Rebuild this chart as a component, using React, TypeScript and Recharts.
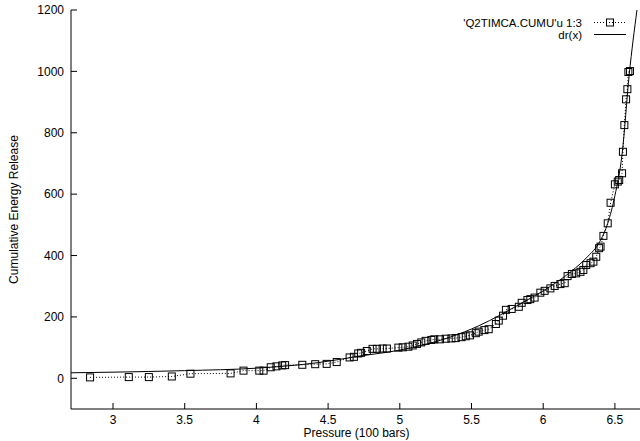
import React from 'react';
import { ComposedChart, Line, XAxis, YAxis } from 'recharts';

// measured points: pressure (100 bars) vs cumulative energy release
const PRESSURE = [
  2.84, 3.11, 3.25, 3.41, 3.54, 3.82, 3.91, 4.02, 4.05, 4.1, 4.14, 4.18, 4.2, 4.32, 4.41, 4.49, 4.56, 4.65, 4.68,
  4.71, 4.73, 4.77, 4.81, 4.84, 4.88, 4.91, 4.99, 5.02, 5.06, 5.09, 5.12, 5.15, 5.18, 5.22, 5.24, 5.28, 5.32, 5.36,
  5.39, 5.43, 5.46, 5.49, 5.53, 5.55, 5.59, 5.62, 5.67, 5.69, 5.72, 5.74, 5.78, 5.83, 5.85, 5.89, 5.91, 5.94, 5.98,
  6.01, 6.05, 6.08, 6.12, 6.15, 6.17, 6.2, 6.23, 6.26, 6.28, 6.3, 6.33, 6.35, 6.37, 6.39, 6.4, 6.42, 6.45, 6.47,
  6.5, 6.52, 6.53, 6.55, 6.556, 6.566, 6.578, 6.587, 6.594, 6.605,
];
const ENERGY = [
  3, 4, 4, 6, 15, 16, 25, 25, 25, 36, 39, 42, 43, 44, 46, 47, 53, 68, 70,
  81, 83, 89, 96, 96, 97, 97, 100, 101, 103, 107, 112, 117, 122, 125, 127, 127, 129, 130,
  131, 134, 137, 140, 147, 152, 157, 160, 177, 188, 204, 223, 226, 233, 246, 255, 258, 263, 279,
  285, 293, 301, 307, 310, 333, 340, 342, 347, 353, 369, 375, 380, 396, 424, 429, 464, 505, 572,
  632, 641, 646, 668, 738, 825, 909, 942, 998, 1001,
];

// fitted curve dr(x)
const DR_P = [2.707, 3.0, 3.5, 4.0, 4.43, 4.73, 5.0, 5.35, 5.55, 5.7, 5.8, 5.9, 6.0, 6.1, 6.2, 6.3, 6.4, 6.45, 6.5, 6.55, 6.6, 6.654];
const DR_E = [18, 20, 25, 33, 51, 73, 92, 134, 171, 206, 232, 258, 285, 315, 350, 392, 450, 505, 595, 730, 990, 1200];

const X_TICKS = [3, 3.5, 4, 4.5, 5, 5.5, 6, 6.5];
const Y_TICKS = [0, 200, 400, 600, 800, 1000, 1200];
const X_DOMAIN = [2.707, 6.689];
const Y_DOMAIN = [-100, 1200];

const FONT = '"Liberation Sans", Arial, Helvetica, sans-serif';

const measured = PRESSURE.map((p, i) => ({ x: p, y: ENERGY[i] }));
const fitted = DR_P.map((p, i) => ({ x: p, y: DR_E[i] }));

const Square = (props: any) => {
  const { cx, cy, index } = props;
  if (cx == null || cy == null) return <g key={`sq-${index}`} />;
  return <rect key={`sq-${index}`} x={cx - 3.5} y={cy - 3.5} width={7} height={7} fill="none" stroke="#000" strokeWidth={1} />;
};

const Key = () => (
  <svg width={640} height={50} style={{ position: 'absolute', left: 0, top: 0, pointerEvents: 'none' }}>
    <g fontFamily={FONT} fontSize={11.5} fill="#000">
      <text x={582} y={26.5} textAnchor="end">'Q2TIMCA.CUMU'u 1:3</text>
      <text x={582} y={38.5} textAnchor="end">dr(x)</text>
    </g>
    <line x1={594} y1={22.5} x2={626} y2={22.5} stroke="#000" strokeDasharray="1 2" />
    <rect x={606.5} y={19} width={7} height={7} fill="none" stroke="#000" />
    <line x1={594} y1={34.5} x2={626} y2={34.5} stroke="#000" />
  </svg>
);

export default function App() {
  const tickStyle = { fill: '#000', fontSize: 12, fontFamily: FONT };
  return (
    <div style={{ position: 'absolute', left: 0, top: 0, width: 640, height: 441, overflow: 'hidden', background: '#fff' }}>
      <ComposedChart width={642} height={441} margin={{ top: 10, right: 0, bottom: 0, left: 0 }}>
        <XAxis
          type="number"
          dataKey="x"
          domain={X_DOMAIN}
          ticks={X_TICKS}
          allowDataOverflow
          height={32}
          tickSize={-6}
          tickMargin={12}
          tick={tickStyle}
          axisLine={{ stroke: '#000' }}
          tickLine={{ stroke: '#000' }}
          label={{ value: 'Pressure (100 bars)', position: 'insideBottom', offset: 4, fill: '#000', fontSize: 12, fontFamily: FONT }}
        />
        <XAxis
          xAxisId="top"
          orientation="top"
          type="number"
          domain={X_DOMAIN}
          ticks={X_TICKS}
          allowDataOverflow
          height={0}
          tickSize={-6}
          tick={false}
          axisLine={{ stroke: '#000' }}
          tickLine={{ stroke: '#000' }}
        />
        <YAxis
          type="number"
          domain={Y_DOMAIN}
          ticks={Y_TICKS}
          allowDataOverflow
          width={71}
          tickSize={-6}
          tickMargin={13}
          tick={tickStyle}
          axisLine={{ stroke: '#000' }}
          tickLine={{ stroke: '#000' }}
          label={{
            value: 'Cumulative Energy Release',
            angle: -90,
            position: 'insideLeft',
            offset: 14,
            fill: '#000',
            fontSize: 12,
            fontFamily: FONT,
            style: { textAnchor: 'middle' },
          }}
        />
        <YAxis
          yAxisId="right"
          orientation="right"
          type="number"
          domain={Y_DOMAIN}
          ticks={Y_TICKS}
          allowDataOverflow
          width={0}
          tickSize={-6}
          tick={false}
          axisLine={{ stroke: '#000' }}
          tickLine={{ stroke: '#000' }}
        />
        <Line
          data={measured}
          dataKey="y"
          type="linear"
          stroke="#000"
          strokeWidth={1}
          strokeDasharray="1 2"
          dot={Square}
          activeDot={false}
          isAnimationActive={false}
        />
        <Line
          data={fitted}
          dataKey="y"
          type="monotone"
          stroke="#000"
          strokeWidth={1}
          dot={false}
          activeDot={false}
          isAnimationActive={false}
        />
      </ComposedChart>
      <Key />
    </div>
  );
}
